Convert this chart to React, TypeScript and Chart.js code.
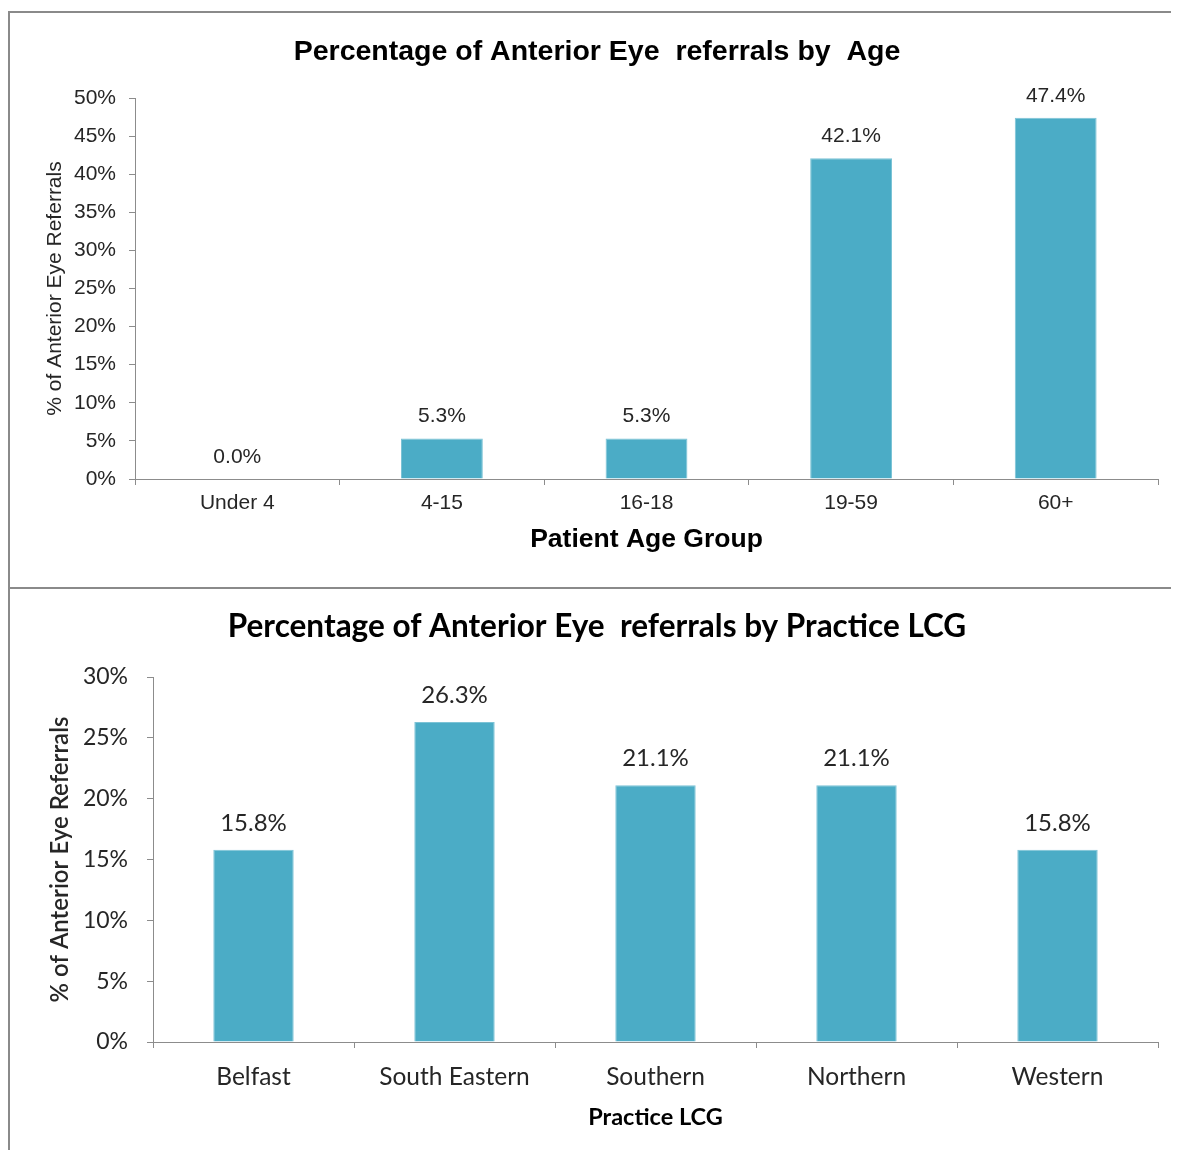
import React, { useEffect, useRef } from "react";
import { Chart, registerables } from "chart.js";

Chart.register(...registerables);

// Referral shares by patient age group
const ageGroups = ["Under 4", "4-15", "16-18", "19-59", "60+"];
const ageShares = [0.0, 5.3, 5.3, 42.1, 47.4];
const ageTicks = [0, 5, 10, 15, 20, 25, 30, 35, 40, 45, 50];

// Referral shares by practice LCG
const lcgNames = ["Belfast", "South Eastern", "Southern", "Northern", "Western"];
const lcgShares = [15.8, 26.3, 21.1, 21.1, 15.8];
const lcgTicks = [0, 5, 10, 15, 20, 25, 30];

const BAR_COLOR = "#4BACC6";
const AXIS_COLOR = "#8c8c8c";
const BORDER = "2px solid #8a8a8a";

type PanelSpec = {
  labels: string[];
  values: number[];
  ticks: number[];
  title: string;
  xTitle: string;
  yTitle: string;
  family: string;
  height: number;
  plotLeft: number;
  plotTop: number;
  plotBottom: number;
  titleSize: number;
  tickSize: number;
  xTickSize: number;
  tickPad: number;
  xTickPad: number;
  yTitleSize: number;
  yTitleWeight: string;
  yTitleX: number;
  xTitleSize: number;
  xTitleY: number;
  labelSize: number;
  labelGap: number;
  titleY: number;
  textColor: string;
};

const valueLabels = {
  id: "valueLabels",
  afterDatasetsDraw(chart: any, _args: any, opts: any) {
    const { ctx } = chart;
    const meta = chart.getDatasetMeta(0);
    const data = chart.data.datasets[0].data as number[];
    ctx.save();
    ctx.font = `${opts.size}px ${opts.family}`;
    ctx.fillStyle = opts.color;
    ctx.textAlign = "center";
    ctx.textBaseline = "middle";
    meta.data.forEach((bar: any, i: number) => {
      ctx.fillText(`${data[i].toFixed(1)}%`, bar.x, bar.y - opts.gap);
    });
    ctx.restore();
  },
};

function BarPanel({ spec }: { spec: PanelSpec }) {
  const ref = useRef<HTMLCanvasElement | null>(null);
  useEffect(() => {
    const canvas = ref.current;
    if (!canvas) return;
    // side padding keeps the plot where it is while centring the title a bit right
    const rightPad = 21;
    const leftPad = 26;
    const titleLH = spec.titleSize * 1.2;
    const titleTop = spec.titleY - titleLH / 2;
    const yMax = spec.ticks[spec.ticks.length - 1];
    const chart = new Chart(canvas, {
      type: "bar",
      data: {
        labels: spec.labels,
        datasets: [
          {
            data: spec.values,
            backgroundColor: BAR_COLOR,
            borderColor: "#7cc3d6",
            borderWidth: 1,
            barPercentage: 0.4,
            categoryPercentage: 1,
          },
        ],
      },
      options: {
        responsive: false,
        animation: false,
        devicePixelRatio: 1,
        layout: { padding: { left: leftPad, right: rightPad, top: 0, bottom: 0 } },
        plugins: {
          legend: { display: false },
          tooltip: { enabled: false },
          title: {
            display: true,
            text: spec.title,
            color: "#000",
            font: { family: spec.family, size: spec.titleSize, weight: "bold", lineHeight: 1.2 },
            padding: { top: titleTop, bottom: spec.plotTop - titleTop - titleLH },
          },
          valueLabels: {
            size: spec.labelSize,
            family: spec.family,
            color: spec.textColor,
            gap: spec.labelGap,
          },
        } as any,
        scales: {
          x: {
            grid: {
              offset: true,
              drawOnChartArea: false,
              drawTicks: true,
              tickLength: 6,
              color: AXIS_COLOR,
            },
            border: { color: AXIS_COLOR, width: 1 },
            ticks: {
              color: spec.textColor,
              font: { family: spec.family, size: spec.xTickSize },
              padding: spec.xTickPad,
              maxRotation: 0,
              autoSkip: false,
            },
            title: {
              display: true,
              text: spec.xTitle,
              color: "#000",
              font: { family: spec.family, size: spec.xTitleSize, weight: "bold", lineHeight: 1.2 },
              padding: {
                top: 0,
                bottom: spec.height - spec.xTitleY - (spec.xTitleSize * 1.2) / 2,
              },
            },
            afterFit(scale: any) {
              scale.height = spec.height - spec.plotBottom;
            },
          },
          y: {
            min: 0,
            max: yMax,
            afterBuildTicks(scale: any) {
              scale.ticks = spec.ticks.map((v) => ({ value: v }));
            },
            grid: {
              drawOnChartArea: false,
              drawTicks: true,
              tickLength: 6,
              color: AXIS_COLOR,
            },
            border: { color: AXIS_COLOR, width: 1 },
            ticks: {
              color: spec.textColor,
              font: { family: spec.family, size: spec.tickSize },
              padding: spec.tickPad,
              callback: (v: any) => `${v}%`,
            },
            title: {
              display: true,
              text: spec.yTitle,
              color: spec.textColor,
              font: {
                family: spec.family,
                size: spec.yTitleSize,
                weight: spec.yTitleWeight as any,
                lineHeight: 1.2,
              },
              padding: {
                top: spec.yTitleX - leftPad - (spec.yTitleSize * 1.2) / 2,
                bottom: 0,
              },
            },
            afterFit(scale: any) {
              scale.width = spec.plotLeft - leftPad;
            },
          },
        },
      },
      plugins: [valueLabels],
    });
    return () => chart.destroy();
  }, [spec]);
  return <canvas ref={ref} width={1169} height={spec.height} style={{ display: "block" }} />;
}

const agePanel: PanelSpec = {
  labels: ageGroups,
  values: ageShares,
  ticks: ageTicks,
  title: "Percentage of Anterior Eye  referrals by  Age",
  xTitle: "Patient Age Group",
  yTitle: "% of Anterior Eye Referrals",
  family: "'Liberation Sans', Arial, sans-serif",
  height: 574,
  plotLeft: 125,
  plotTop: 85,
  plotBottom: 466,
  titleSize: 28.5,
  tickSize: 21,
  xTickSize: 21,
  tickPad: 13,
  xTickPad: 6,
  yTitleSize: 21,
  yTitleWeight: "normal",
  yTitleX: 45,
  xTitleSize: 26.5,
  xTitleY: 527,
  labelSize: 21,
  labelGap: 22,
  titleY: 39,
  textColor: "#262626",
};

const lcgPanel: PanelSpec = {
  labels: lcgNames,
  values: lcgShares,
  ticks: lcgTicks,
  title: "Percentage of Anterior Eye  referrals by Practice LCG",
  xTitle: "Practice LCG",
  yTitle: "% of Anterior Eye Referrals",
  family: "Lato, 'Open Sans', sans-serif",
  height: 561,
  plotLeft: 143,
  plotTop: 88,
  plotBottom: 453,
  titleSize: 31.5,
  tickSize: 23,
  xTickSize: 24.5,
  tickPad: 19,
  xTickPad: 14,
  yTitleSize: 24,
  yTitleWeight: "600",
  yTitleX: 50,
  xTitleSize: 23.5,
  xTitleY: 528,
  labelSize: 24,
  labelGap: 27,
  titleY: 38,
  textColor: "#262626",
};

export default function App() {
  return (
    <div style={{ paddingTop: 3, width: 1200 }}>
      <style>{"html, body { overflow: hidden; }"}</style>
      <div style={{ borderLeft: BORDER, borderTop: BORDER, borderBottom: BORDER, width: 1198 }}>
        <BarPanel spec={agePanel} />
      </div>
      <div style={{ borderLeft: BORDER, width: 1198 }}>
        <BarPanel spec={lcgPanel} />
      </div>
    </div>
  );
}
